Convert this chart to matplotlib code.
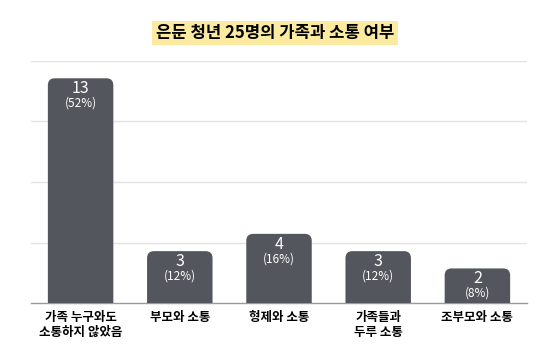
import matplotlib
matplotlib.use('Agg')
import matplotlib.pyplot as plt
from matplotlib.patches import FancyBboxPatch

plt.rcParams['font.family'] = ['Noto Sans CJK KR', 'DejaVu Sans']

categories = ['가족 누구와도\n소통하지 않았음', '부모와 소통', '형제와 소통', '가족들과\n두루 소통', '조부모와 소통']
counts = [13, 3, 4, 3, 2]
percents = ['(52%)', '(12%)', '(16%)', '(12%)', '(8%)']
title = '은둔 청년 25명의 가족과 소통 여부'

bar_color = '#53565c'

fig = plt.figure(figsize=(5.5, 3.54), dpi=100)
ax = fig.add_axes([31/550, 1-303/354, 496/550, 242/354])

x = list(range(len(counts)))
bars = ax.bar(x, counts, width=0.66, color='none')
ax.set_xlim(-0.5, 4.5)
ax.set_ylim(0, 14)

# rounded tops
aspect = (14/242) / (5/496)
for b in bars:
    x0 = b.get_x()
    w = b.get_width()
    h = b.get_height()
    p = FancyBboxPatch((x0, -1), w, h + 1,
                       boxstyle='round,pad=0,rounding_size=0.07',
                       mutation_aspect=aspect, facecolor=bar_color,
                       edgecolor='none', zorder=3, clip_on=True)
    ax.add_patch(p)
    b.remove()

for xi, c, pc in zip(x, counts, percents):
    ax.annotate(str(c), (xi, c), xytext=(0, -7.5), textcoords='offset points',
                ha='center', va='center', color='white', fontsize=11.5, zorder=4)
    ax.annotate(pc, (xi, c), xytext=(0, -18), textcoords='offset points',
                ha='center', va='center', color='white', fontsize=8.5, zorder=4)

ax.set_yticks([3.5, 7, 10.5, 14])
ax.yaxis.grid(True, color='#e3e3e3', linewidth=1)
ax.set_axisbelow(True)
ax.tick_params(axis='y', left=False, labelleft=False)
ax.tick_params(axis='x', bottom=False, pad=2)
ax.set_xticks(x)
ax.set_xticklabels(categories, fontsize=9, fontweight='heavy', linespacing=1.25)
for s in ['top', 'right', 'left']:
    ax.spines[s].set_visible(False)
ax.spines['bottom'].set_color('#9a9a9a')
ax.spines['bottom'].set_linewidth(1)

fig.text(0.5, 1-33/354, title, ha='center', va='center', fontsize=12,
         fontweight='heavy', color='black',
         bbox=dict(boxstyle='square,pad=0.2', facecolor='#fbeaa0', edgecolor='none'))

fig.savefig('out.png', dpi=100, facecolor='white')
